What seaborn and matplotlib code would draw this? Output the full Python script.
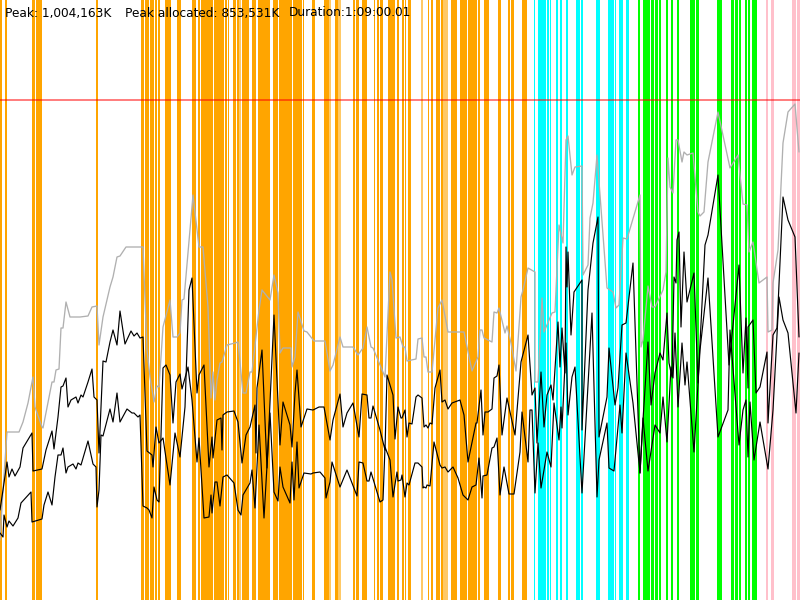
import matplotlib
matplotlib.use("Agg")
import matplotlib.pyplot as plt
import pandas as pd
import seaborn as sns

peak_label = "Peak: 1,004,163K"
allocated_label = "Peak allocated: 853,531K"
duration_label = "Duration:1:09:00.01"
peak_level = 100

orange_spans = [(0,2),(5,7),(32,35),(36,42),(96,98),(141,144),(145,149),(150,154),(155,157),(158,160),(165,170.5),(177,180.5),(192,196),(198,200),(201,213),(214,224),(225,227),(227.5,229),(233,236),(237,239),(242,249),(252,256),(258,270),(273,278),(279,292),(293,302),(303,304),(312,315),(324,329),(335,338),(353,355),(356,359),(362,367),(374,375),(377,379),(380,383),(388,395),(397,399),(402,404),(404.5,406),(408,411),(428,429),(431,433),(436,440),(441,443),(451,457),(460,467),(468,477),(477.5,480),(484,489),(498,501),(508,510),(511,514),(522,527)]
orange_faint = [(239,241),(329,331),(338,341),(421,423),(443,448)]
cyan_spans = [(534,535),(538,546),(547,549),(549.5,551),(556,558),(560,562),(566,568),(576,580),(581,583),(596,600),(608,614),(615,616),(619,623),(626,629)]
lime_spans = [(638,640),(643,650),(651,654),(655,658),(659,661),(666,668),(671,673),(677,679),(690,695),(696,699),(717,722),(731,734),(734.5,738),(739,741),(745,747),(747.5,750),(752,757)]
pink_spans = [(766,768),(771,774),(792,796),(797,800)]

gray_series = [(0,540),(3,490),(7,432),(13,432),(19,432),(23,422),(28,403),(33,377),(35,407),(42,427),(43,428),(52,382),(54,382),(56,370),(59,369),(61,328),(63,328),(66,302),(70,317),(80,317),(88,316),(92,307),(97,306),(99,345),(103,317),(110,287),(113,277),(117,257),(120,256),(126,247),(143,247),(147,350),(150,377),(154,402),(157,386),(159,387),(163,327),(170,300),(173,337),(177,337),(180,333),(182,300),(184,299),(193,195),(199,247),(203,247),(208,307),(211,398),(213,372),(215,400),(217,380),(220,363),(222,362),(227,345),(235,343),(238,342),(243,393),(246,393),(250,372),(252,372),(259,310),(262,290),(270,300),(274,275),(278,293),(280,353),(283,348),(291,348),(292,367),(295,357),(298,312),(304,331),(307,332),(314,341),(325,341),(330,371),(333,365),(340,337),(343,347),(353,347),(358,355),(363,348),(367,327),(371,347),(373,348),(385,377),(390,272),(392,280),(396,338),(400,337),(403,347),(405,347),(407,361),(416,359),(418,339),(422,338),(424,357),(426,357),(428,372),(432,372),(438,308),(442,300),(448,332),(464,332),(472,371),(478,357),(480,330),(482,330),(484,338),(492,342),(494,312),(497,313),(499,308),(505,333),(507,326),(511,343),(516,371),(521,297),(523,290),(528,268),(535,272),(535,382),(538,382),(542,298),(544,332),(552,313),(555,312),(559,225),(563,243),(566,140),(568,136),(572,175),(575,167),(582,166),(583,275),(588,265),(590,218),(593,203),(597,155),(607,288),(613,292),(616,308),(619,305),(623,238),(627,239),(640,195),(641,347),(643,340),(648,286),(652,307),(655,307),(663,290),(666,272),(668,158),(670,187),(673,193),(676,140),(678,140),(682,162),(684,152),(687,155),(693,153),(698,212),(700,216),(704,212),(708,162),(718,112),(730,168),(738,155),(743,204),(747,205),(749,252),(753,242),(759,283),(767,277),(768,332),(772,330),(773,283),(778,250),(783,143),(788,112),(795,104),(799,152)]

upper_series = [(0,510),(3,490),(7,462),(9,477),(12,469),(15,476),(20,467),(23,448),(32,433),(33,471),(42,469),(46,450),(52,431),(54,449),(58,417),(61,387),(63,386),(66,378),(68,407),(71,400),(76,397),(78,403),(81,395),(83,397),(88,382),(92,369),(94,397),(97,400),(99,453),(103,361),(106,362),(110,342),(113,330),(117,345),(120,311),(125,344),(131,331),(134,336),(137,333),(140,338),(143,337),(147,451),(152,455),(153,467),(156,427),(159,443),(163,438),(170,485),(175,433),(180,457),(185,407),(189,290),(192,278),(197,393),(199,375),(204,365),(209,467),(212,437),(213,458),(217,420),(221,418),(222,450),(223,415),(227,412),(234,411),(238,422),(242,463),(246,435),(250,427),(255,405),(256,453),(257,388),(262,350),(267,468),(274,315),(280,445),(283,402),(290,425),(292,447),(295,393),(297,370),(301,427),(307,409),(313,410),(319,407),(324,407),(330,440),(333,420),(340,394),(343,427),(347,413),(353,403),(359,437),(362,394),(367,395),(369,418),(371,418),(373,406),(380,430),(385,450),(387,375),(393,395),(395,439),(398,407),(401,418),(402,418),(405,410),(407,437),(409,423),(412,424),(416,397),(418,395),(422,398),(424,427),(426,425),(428,428),(430,423),(432,424),(435,388),(440,370),(442,402),(445,400),(448,409),(452,403),(460,400),(464,415),(468,462),(476,423),(477,423),(481,390),(483,435),(485,412),(488,412),(492,409),(494,378),(497,376),(499,365),(502,435),(507,398),(515,435),(521,362),(528,335),(532,395),(535,388),(537,443),(541,372),(544,427),(547,395),(551,385),(553,400),(558,322),(560,367),(562,328),(565,373),(566,247),(567,287),(568,252),(571,335),(574,292),(582,280),(582,430),(588,290),(593,243),(598,217),(599,437),(607,397),(609,348),(615,405),(618,388),(622,325),(626,323),(633,263),(640,473),(643,420),(648,342),(651,405),(655,373),(660,353),(663,360),(667,313),(669,363),(672,377),(674,277),(676,283),(677,240),(679,232),(681,327),(684,252),(687,302),(694,273),(698,383),(705,245),(708,235),(718,175),(729,365),(739,265),(743,373),(746,318),(748,388),(748,327),(753,320),(756,393),(760,387),(767,352),(768,423),(773,335),(777,328),(783,197),(788,220),(795,237),(799,337)]

lower_series = [(0,533),(3,537),(4,515),(7,527),(9,521),(13,526),(18,518),(21,503),(31,492),(32,522),(42,519),(44,505),(48,492),(52,505),(55,477),(58,455),(61,455),(63,448),(66,473),(68,467),(73,464),(76,469),(78,463),(81,465),(88,441),(93,464),(96,467),(97,507),(99,490),(101,435),(103,436),(110,409),(113,422),(117,393),(120,422),(127,409),(132,413),(134,413),(138,417),(140,415),(143,506),(147,508),(149,510),(152,518),(154,487),(157,500),(159,502),(163,368),(166,365),(170,375),(173,423),(176,382),(180,374),(182,389),(188,367),(192,400),(197,462),(199,438),(204,518),(209,517),(211,495),(212,513),(215,482),(217,482),(220,506),(223,477),(227,475),(234,483),(238,510),(241,515),(243,495),(250,483),(252,470),(255,508),(259,425),(264,518),(270,413),(274,492),(278,501),(280,467),(283,487),(290,503),(292,462),(294,500),(297,442),(299,488),(304,473),(311,474),(313,473),(320,472),(325,478),(326,498),(330,482),(332,462),(340,487),(347,470),(357,496),(359,462),(363,463),(367,481),(369,481),(371,472),(380,502),(383,500),(385,447),(390,460),(393,497),(397,472),(398,481),(401,480),(402,475),(405,497),(407,483),(409,485),(415,463),(418,463),(422,467),(423,488),(424,487),(426,488),(427,485),(430,486),(434,442),(440,465),(442,468),(445,467),(448,472),(453,467),(458,478),(463,495),(468,500),(472,487),(476,485),(479,458),(482,498),(483,476),(487,475),(492,448),(494,447),(497,438),(500,495),(504,467),(509,494),(514,494),(520,452),(522,412),(528,462),(530,410),(532,410),(535,493),(538,443),(541,488),(547,452),(551,467),(554,403),(559,440),(561,407),(562,428),(566,343),(568,415),(572,377),(575,367),(582,493),(592,313),(597,497),(599,460),(607,423),(609,468),(614,471),(620,405),(622,433),(626,353),(633,403),(640,473),(643,418),(648,471),(655,425),(660,433),(663,397),(667,442),(671,367),(673,378),(675,333),(678,407),(682,343),(685,385),(687,362),(694,452),(700,350),(703,323),(708,278),(718,437),(728,410),(730,330),(739,445),(743,410),(746,400),(748,457),(750,402),(754,460),(760,422),(768,469),(773,410),(779,297),(783,320),(788,333),(796,413),(799,353)]

def frame(points, name):
    return pd.DataFrame(points, columns=["time", "memory"]).assign(series=name)

sns.set_theme(style="white", rc={"font.family": "DejaVu Sans"})
fig = plt.figure(figsize=(8, 6), dpi=100)
ax = fig.add_axes([0, 0, 1, 1])

for spans, colour, alpha in [(orange_spans, "#ffa500", 1), (orange_faint, "#ffa500", 0.6),
                             (cyan_spans, "#00ffff", 1), (lime_spans, "#00ff00", 1),
                             (pink_spans, "#ffc0cb", 1)]:
    for start, end in spans:
        ax.axvspan(start, end, color=colour, alpha=alpha, lw=0, zorder=1)

for points, name, colour, width in [(gray_series, "peak", "#b0b0b0", 0.95),
                                    (upper_series, "total", "black", 0.85),
                                    (lower_series, "allocated", "black", 0.85)]:
    sns.lineplot(data=frame(points, name), x="time", y="memory", sort=False, estimator=None,
                 color=colour, linewidth=width, ax=ax, zorder=3)

ax.axhline(peak_level, color="#ff0000", alpha=0.5, lw=1.44, zorder=4)

ax.set_xlim(0, 800)
ax.set_ylim(600, 0)
ax.axis("off")

for x, label in [(5, peak_label), (125, allocated_label), (289, duration_label)]:
    ax.text(x, 13, label, fontsize=8.7, color="black", va="center", ha="left", zorder=5)

fig.savefig("out.png", dpi=100)
